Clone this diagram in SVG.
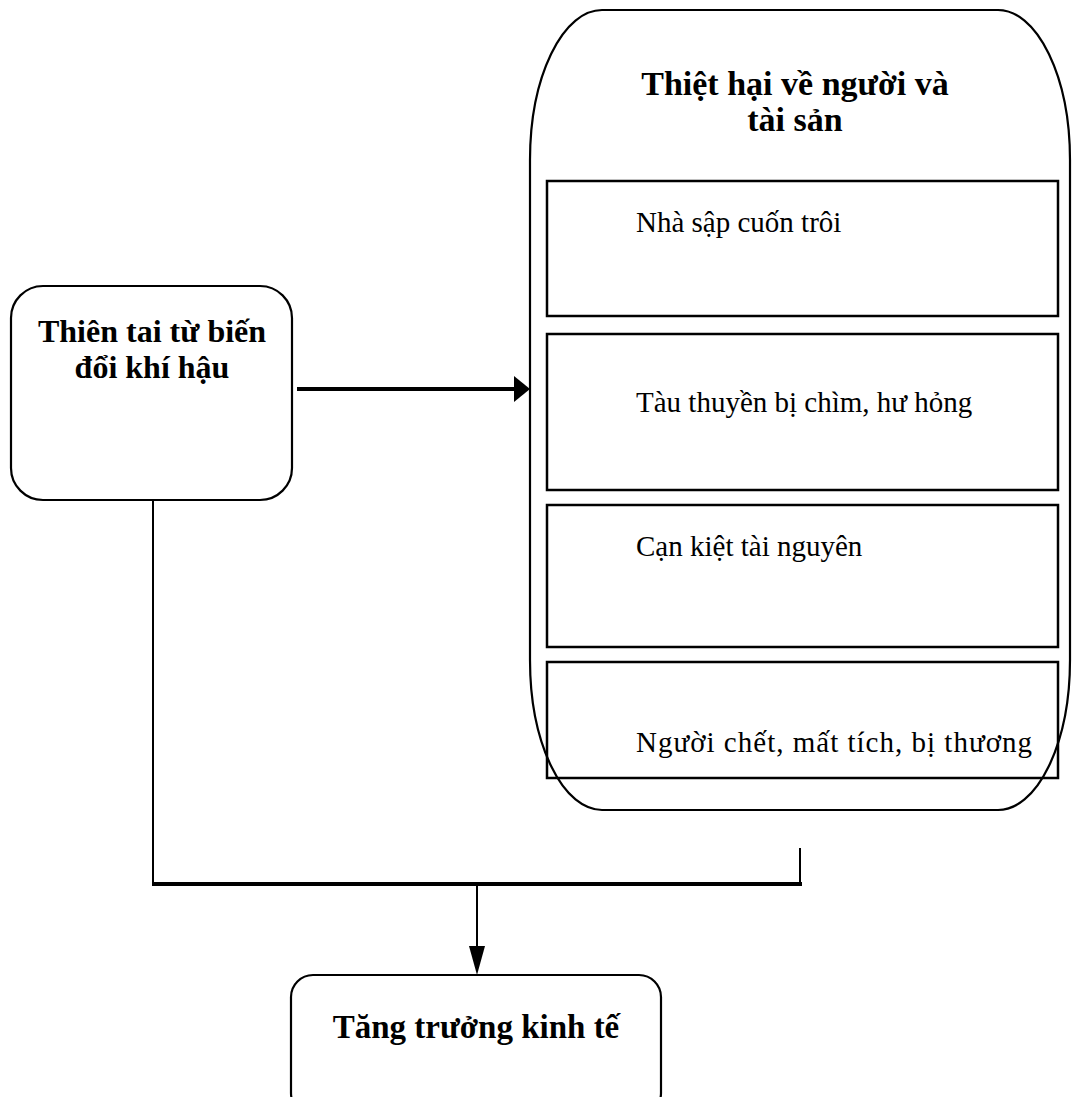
<svg xmlns="http://www.w3.org/2000/svg" width="1072" height="1097" viewBox="0 0 1072 1097">
<style>
.box{fill:#fff;stroke:#000;stroke-width:2.2}
.inner{fill:none;stroke:#000;stroke-width:2.5}
.b{font-family:"Liberation Serif","Times New Roman",serif;font-weight:bold;fill:#000}
.r{font-family:"Liberation Serif","Times New Roman",serif;font-size:29px;fill:#000}
.ln{fill:none;stroke:#000;stroke-width:2}
.thick{fill:none;stroke:#000;stroke-width:4}
.ah{fill:#000;stroke:none}
</style>
<g id="big">
<rect class="box" x="530" y="10" width="540" height="800" rx="72" ry="150"/>
<text class="b" x="795" y="95" text-anchor="middle" font-size="34">Thiệt hại về người và</text>
<text class="b" x="795" y="131" text-anchor="middle" font-size="34">tài sản</text>
</g>
<g id="n1">
<rect class="inner" x="547" y="181" width="511" height="135"/>
<text class="r" x="636" y="232">Nhà sập cuốn trôi</text>
</g>
<g id="n2">
<rect class="inner" x="547" y="334" width="511" height="156"/>
<text class="r" x="636" y="412">Tàu thuyền bị chìm, hư hỏng</text>
</g>
<g id="n3">
<rect class="inner" x="547" y="505" width="511" height="142"/>
<text class="r" x="636" y="556">Cạn kiệt tài nguyên</text>
</g>
<g id="n4">
<rect class="inner" x="547" y="662" width="511" height="116"/>
<text class="r" x="636" y="752" textLength="396" lengthAdjust="spacing">Người chết, mất tích, bị thương</text>
</g>
<g id="left">
<rect class="box" x="11" y="286" width="281" height="214" rx="32" ry="32"/>
<text class="b" x="152" y="342" text-anchor="middle" font-size="32">Thiên tai từ biến</text>
<text class="b" x="152" y="378" text-anchor="middle" font-size="32">đổi khí hậu</text>
</g>
<g id="bottom">
<rect class="box" x="291" y="975" width="370" height="140" rx="22" ry="22"/>
<text class="b" x="476" y="1038" text-anchor="middle" font-size="33">Tăng trưởng kinh tế</text>
</g>
<g id="connectors">
<line class="thick" x1="297" y1="389" x2="516" y2="389"/>
<path class="ah" d="M514,376 L530,389 L514,402 Z"/>
<line class="ln" x1="153" y1="500" x2="153" y2="884"/>
<line class="thick" x1="152" y1="884" x2="802" y2="884"/>
<line class="ln" x1="800" y1="848" x2="800" y2="884"/>
<line class="ln" x1="477" y1="884" x2="477" y2="948"/>
<path class="ah" d="M469,946 L485,946 L477,975 Z"/>
</g>
</svg>
